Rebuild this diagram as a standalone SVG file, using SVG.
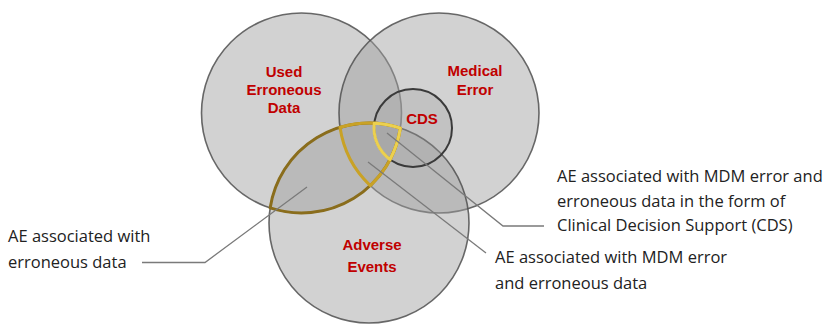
<svg xmlns="http://www.w3.org/2000/svg" width="832" height="326" viewBox="0 0 832 326">
<style>
.set{fill:#a0a0a0;fill-opacity:0.47;stroke:#505050;stroke-width:1.6;stroke-opacity:0.85}
.cds{fill:#a0a0a0;fill-opacity:0.3;stroke:#3a3a3a;stroke-width:2}
.hl{fill:none;stroke-width:3;stroke-linejoin:round}
.red{font-family:"Liberation Sans",Arial,sans-serif;font-weight:bold;font-size:15px;fill:#c00000;text-anchor:middle}
.lbl{font-family:"Open Sans","Liberation Sans",sans-serif;font-size:16.5px;fill:#222222}
.lead{fill:none;stroke:#7a7a7a;stroke-width:1.3}
</style>
<rect width="832" height="326" fill="#ffffff"/>
<g id="used-erroneous-data">
<circle class="set" cx="301.5" cy="113" r="100"/>
<text class="red" x="284" y="77">Used</text>
<text class="red" x="284" y="95">Erroneous</text>
<text class="red" x="284" y="113">Data</text>
</g>
<g id="medical-error">
<circle class="set" cx="439" cy="113" r="100"/>
<text class="red" x="475" y="76">Medical</text>
<text class="red" x="475" y="95">Error</text>
</g>
<g id="adverse-events">
<circle class="set" cx="369" cy="223" r="100"/>
<text class="red" x="372" y="250">Adverse</text>
<text class="red" x="372" y="272">Events</text>
</g>
<g id="cds">
<circle class="cds" cx="413" cy="128" r="39"/>
<text class="red" x="422" y="124">CDS</text>
</g>
<g id="highlights">
<path class="hl" stroke="#8a6d1c" d="M270.14,207.95 A100,100 0 0 1 400.36,128.05 A100,100 0 0 1 270.14,207.95 Z"/>
<path class="hl" stroke="#c9a226" d="M340.02,127.29 A100,100 0 0 1 400.36,128.05 A100,100 0 0 1 370.25,185.62 A100,100 0 0 1 340.02,127.29 Z"/>
<path class="hl" stroke="#ecd04e" d="M374.31,123.14 A100,100 0 0 1 400.36,128.05 A100,100 0 0 1 390.02,159.51 A39,39 0 0 1 374.31,123.14 Z"/>
</g>
<g id="connectors">
<polyline class="lead" points="142,262.5 205,262.5 307,187"/>
<polyline class="lead" points="387,133 503,226 544,226"/>
<polyline class="lead" points="368,162 486,253"/>
</g>
<g id="label-ae-erroneous">
<text class="lbl" x="8" y="241.5">AE associated with</text>
<text class="lbl" x="8" y="267.5">erroneous data</text>
</g>
<g id="label-ae-cds">
<text class="lbl" x="557" y="181.5">AE associated with MDM error and</text>
<text class="lbl" x="557" y="206.5">erroneous data in the form of</text>
<text class="lbl" x="557" y="231">Clinical Decision Support (CDS)</text>
</g>
<g id="label-ae-mdm">
<text class="lbl" x="495" y="262.5">AE associated with MDM error</text>
<text class="lbl" x="495" y="288.5">and erroneous data</text>
</g>
</svg>
